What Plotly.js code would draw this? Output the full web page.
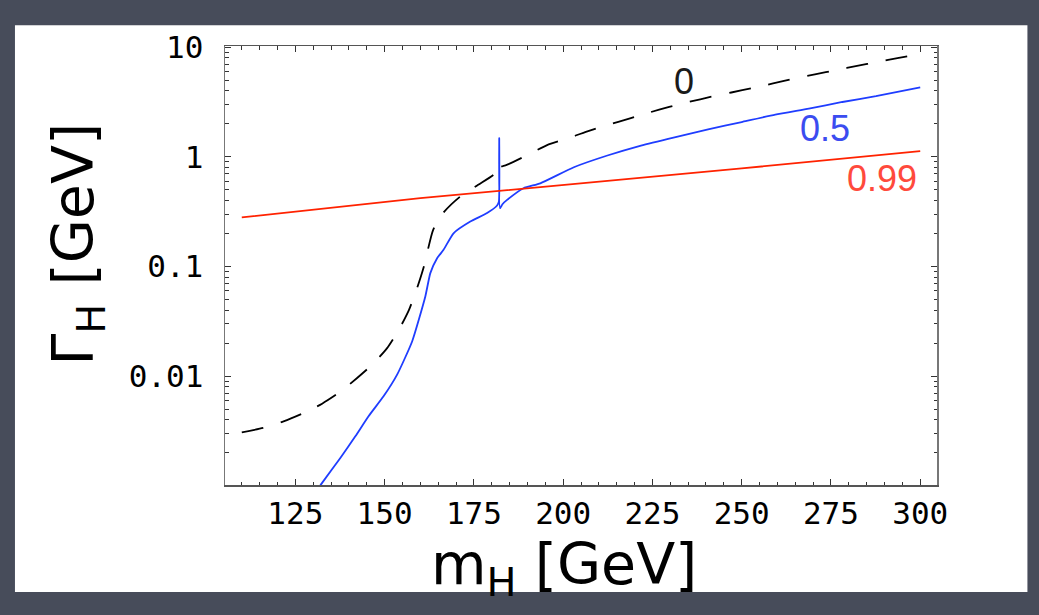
<!DOCTYPE html>
<html>
<head>
<meta charset="utf-8">
<script src="https://cdn.plot.ly/plotly-3.0.1.min.js"></script>
<style>
  html, body { margin: 0; padding: 0; background: #474c5a; }
  #chart { width: 1039px; height: 615px; }
</style>
</head>
<body>
<div id="chart"></div>
<script>
// Higgs mass m_H [GeV] and total width Γ_H [GeV] for three mixing values
const mass_0 = [110, 116, 121.7, 127.3, 132.5, 137.6, 142.3, 146.5, 150.7, 154, 156.8, 159.1, 161, 163.6, 166.4, 171.2, 176.2, 181, 182.2, 182.6, 184.7, 190, 195.5, 201.1, 206.8, 212.4, 218.5, 224.1, 229.7, 235.3, 241.5, 247.1, 253.2, 258.8, 264.9, 270.5, 276.6, 282.3, 288, 294, 300];
const width_0 = [0.00307, 0.00336, 0.00386, 0.0046, 0.0056, 0.0072, 0.0096, 0.0127, 0.018, 0.0265, 0.040, 0.0636, 0.1, 0.216, 0.308, 0.435, 0.556, 0.71, 0.88, 0.82, 0.86, 1.04, 1.28, 1.47, 1.71, 1.95, 2.24, 2.54, 2.86, 3.18, 3.54, 3.87, 4.27, 4.68, 5.21, 5.66, 6.21, 6.76, 7.35, 8.0, 8.7];

const mass_05 = [130, 132.5, 137.6, 141.8, 145.5, 149.7, 153.5, 157.7, 161.4, 162.8, 164.7, 166.5, 169.3, 174, 178.7, 181.5, 182.0, 182.1, 182.3, 183, 184.3, 188.9, 193.6, 203, 212.4, 221.8, 231.2, 240.6, 250, 259.4, 268.8, 278.2, 287.6, 300];
const width_05 = [0.00081, 0.00106, 0.00179, 0.00282, 0.0043, 0.00653, 0.0103, 0.0207, 0.0533, 0.087, 0.119, 0.142, 0.201, 0.257, 0.307, 0.36, 0.39, 1.48, 0.34, 0.37, 0.405, 0.518, 0.574, 0.805, 1.03, 1.27, 1.51, 1.78, 2.08, 2.43, 2.76, 3.17, 3.58, 4.3];

const mass_099 = [110, 160, 193.6, 250, 300];
const width_099 = [0.28, 0.42, 0.53, 0.785, 1.13];

const curveLabels = ["0", "0.5", "0.99"];
const labelX = [233.9, 273.4, 289.4];
const labelY = [4.85, 1.81, 0.63];

const xTicks = [125, 150, 175, 200, 225, 250, 275, 300];
const yTicks = [0.01, 0.1, 1, 10];
const yTickText = ["0.01", "0.1", "1", "10"];

const xTitle = "m<sub>H</sub> [GeV]";
const yTitle = "Γ<sub>H</sub> [GeV]";

const traces = [
  { x: mass_0, y: width_0, mode: "lines", name: "0",
    line: { color: "#000000", width: 1.8, dash: "22px,18px", shape: "spline", smoothing: 0.6 } },
  { x: mass_05, y: width_05, mode: "lines", name: "0.5",
    line: { color: "#1f3dff", width: 1.8, shape: "spline", smoothing: 0.5 } },
  { x: mass_099, y: width_099, mode: "lines", name: "0.99",
    line: { color: "#ff2200", width: 1.8 } }
];

const labelColors = ["#1a1a1a", "#3b4cf0", "#ff4a3c"];
const annotations = curveLabels.map((t, i) => ({
  x: labelX[i], y: Math.log10(labelY[i]), xref: "x", yref: "y",
  text: t, showarrow: false,
  font: { family: "Liberation Sans, Arial, sans-serif", size: 36, color: labelColors[i] }
}));

const tickFont = { family: "DejaVu Sans Mono, monospace", size: 31, color: "#000" };
const titleFont = { family: "Comic Sans MS, DejaVu Sans, sans-serif", size: 57, color: "#000" };

// axis titles placed as annotations for exact positioning
annotations.push({
  x: 0.476, y: -0.19, xref: "paper", yref: "paper", xanchor: "center", yanchor: "middle",
  text: xTitle, showarrow: false, font: titleFont
});
annotations.push({
  x: -0.208, y: 0.55, xref: "paper", yref: "paper", xanchor: "center", yanchor: "middle",
  text: yTitle, showarrow: false, textangle: -90, font: titleFont
});

const layout = {
  width: 1039, height: 615,
  margin: { l: 225, r: 102, t: 46, b: 130 },
  paper_bgcolor: "#474c5a",
  plot_bgcolor: "#ffffff",
  showlegend: false,
  xaxis: {
    range: [105.3, 304.7],
    tickvals: xTicks, ticktext: xTicks.map(String),
    ticks: "inside", ticklen: 6, tickcolor: "#333",
    minor: { dtick: 5, tick0: 0, ticks: "inside", ticklen: 3.5, tickcolor: "#333", showgrid: false },
    showline: true, linecolor: "#555", linewidth: 1.5, mirror: "allticks",
    showgrid: false, zeroline: false,
    tickfont: tickFont
  },
  yaxis: {
    type: "log",
    range: [-2.994, 1.012],
    tickvals: yTicks, ticktext: yTickText,
    ticks: "inside", ticklen: 6, tickcolor: "#333",
    ticklabelstandoff: 14,
    minor: { dtick: "D1", ticks: "inside", ticklen: 3.5, tickcolor: "#333", showgrid: false },
    showline: true, linecolor: "#777", linewidth: 1.5, mirror: "allticks",
    showgrid: false, zeroline: false,
    tickfont: tickFont
  },
  annotations: annotations,
  shapes: [
    { type: "rect", xref: "paper", yref: "paper", layer: "below",
      x0: -0.295, x1: 1.127, y0: -0.2436, y1: 1.047,
      fillcolor: "#ffffff", line: { width: 0 } }
  ]
};

Plotly.newPlot("chart", traces, layout, { staticPlot: true, displayModeBar: false });
</script>
</body>
</html>
